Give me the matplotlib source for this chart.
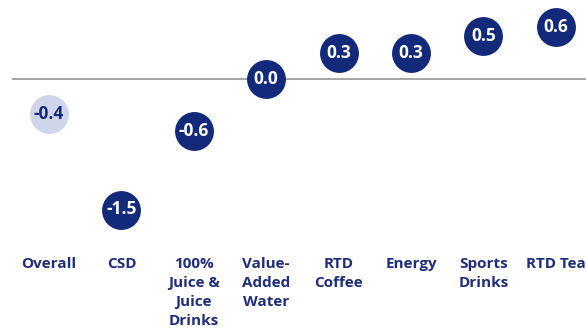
import matplotlib
matplotlib.use("Agg")
import matplotlib.pyplot as plt

categories = ["Overall", "CSD", "100%\nJuice &\nJuice\nDrinks", "Value-\nAdded\nWater",
              "RTD\nCoffee", "Energy", "Sports\nDrinks", "RTD Tea"]
values = [-0.4, -1.5, -0.6, 0.0, 0.3, 0.3, 0.5, 0.6]
highlight = [True, False, False, False, False, False, False, False]

navy = "#13297A"
light = "#D0D6EA"
label_color = "#1F2D7A"

W, H = 586, 328
fig = plt.figure(figsize=(W / 100, H / 100), dpi=100)
ax = fig.add_axes([0, 0, 1, 1])
x0, dx = 49, 72.4
y0, dy = 79, 87
ax.set_xlim(-x0 / dx, (W - x0) / dx)
ax.set_ylim((y0 - H) / dy, y0 / dy)
ax.axis("off")

ax.plot([(12 - x0) / dx, (W - x0) / dx], [0, 0], color="#8C8C8C", lw=1.1, zorder=1,
        solid_capstyle="butt")

for i, (v, h) in enumerate(zip(values, highlight)):
    ax.plot(i, v, "o", ms=28, color=light if h else navy, mec="none", zorder=2)
    ax.text(i, v, f"{v:.1f}", ha="center", va="center", fontsize=12.5, fontweight="bold",
            family="Open Sans", color=navy if h else "white", zorder=3)

ylab = (y0 - 257) / dy
for i, c in enumerate(categories):
    ax.text(i, ylab, c, ha="center", va="top", fontsize=11, fontweight="bold",
            family="Open Sans", color=label_color, linespacing=1.45)

fig.savefig("out.png", dpi=100)
